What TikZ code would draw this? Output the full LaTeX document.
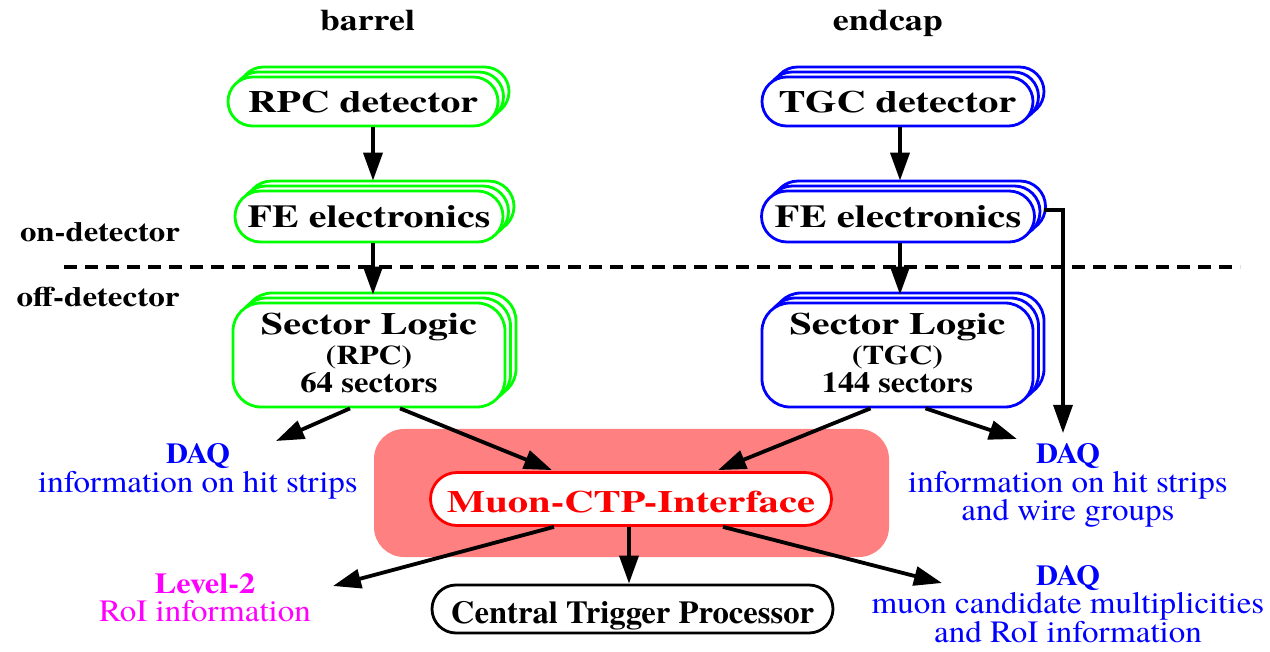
\documentclass[tikz,border=0pt]{standalone}
\usepackage{fontspec}
\setmainfont{texgyretermes}[Extension=.otf, UprightFont=*-regular, BoldFont=*-bold, ItalicFont=*-italic, BoldItalicFont=*-bolditalic]
\usepackage{graphicx}
\usetikzlibrary{arrows.meta,shadows,shapes.misc,calc}
\definecolor{cgreen}{RGB}{0,255,0}
\definecolor{cblue}{RGB}{0,0,255}
\definecolor{cred}{RGB}{255,0,0}
\definecolor{cpink}{RGB}{255,128,128}
\definecolor{cmag}{RGB}{255,0,255}
\newcommand{\hs}[2]{\scalebox{#1}[1]{#2}}
\newcommand{\fs}[1]{\fontsize{#1}{#1}\selectfont}
\begin{document}
\begin{tikzpicture}[x=1pt,y=-1pt,
  pill/.style={rounded rectangle, draw, line width=2.8pt, fill=white, inner sep=0pt},
  rbox/.style={rectangle, rounded corners=28pt, draw, line width=2.8pt, fill=white, inner sep=0pt},
  stack/.style={copy shadow={shadow xshift=11pt,shadow yshift=10pt,draw=#1,fill=white,line width=2.8pt},
                copy shadow={shadow xshift=5.5pt,shadow yshift=5pt,draw=#1,fill=white,line width=2.8pt},
                draw=#1},
  lab/.style={anchor=base, inner sep=0pt},
  arr/.style={line width=3.8pt, -{Triangle[length=28pt,width=19pt]}},
  arrthin/.style={line width=3.2pt, -{Triangle[length=28pt,width=19pt]}},
  boxfont/.style={font=\fs{31}\bfseries}
]
\useasboundingbox (0,0) rectangle (1270,652);
% background of the interface
\fill[cpink, rounded corners=30pt] (374,429) rectangle (889,557);

% headers
\node[lab, font=\fs{30}\bfseries] (barrel) at (367.5,31) {\hs{1.19}{barrel}};
\node[lab, font=\fs{30}\bfseries] (endcap) at (888,31) {\hs{1.2}{endcap}};
\node[lab, font=\fs{28}\bfseries] (ondet) at (100,242) {\hs{1.17}{on-detector}};
\node[lab, font=\fs{28}\bfseries] (offdet) at (98,307) {\hs{1.18}{off-detector}};

% separator
\coordinate (dl) at (64,267);
\coordinate (dr) at (1240,267);
\draw[line width=4pt, dash pattern=on 13pt off 8pt] (dl) -- (dr);

% barrel column
\node[pill, stack=cgreen, minimum width=270pt, minimum height=49pt, boxfont, text height=23pt, text depth=0pt] (rpc) at (363,101.5) {\hs{1.28}{RPC detector}};
\node[pill, stack=cgreen, minimum width=268pt, minimum height=51pt, font=\fs{32}\bfseries, text height=23pt, text depth=0pt] (fe1) at (369,216.5) {\hs{1.25}{FE electronics}};
\node[rbox, stack=cgreen, minimum width=272pt, minimum height=104pt] (sl1) at (369,355) {};
\node[lab, font=\fs{31}\bfseries] (sl1a) at ($(sl1.center)+(0,-20)$) {\hs{1.3}{Sector Logic}};
\node[lab, font=\fs{27}\bfseries] (sl1b) at ($(sl1.center)+(0,10)$) {\hs{1.18}{(RPC)}};
\node[lab, font=\fs{29}\bfseries] (sl1c) at ($(sl1.center)+(0,38)$) {\hs{1.13}{64 sectors}};

% endcap column
\node[pill, stack=cblue, minimum width=271pt, minimum height=49pt, boxfont, text height=23pt, text depth=0pt] (tgc) at (897.5,101.5) {\hs{1.3}{TGC detector}};
\node[pill, stack=cblue, minimum width=273pt, minimum height=51pt, font=\fs{32}\bfseries, text height=23pt, text depth=0pt] (fe2) at (898,216.5) {\hs{1.27}{FE electronics}};
\node[rbox, stack=cblue, minimum width=271pt, minimum height=104pt] (sl2) at (897.5,355) {};
\node[lab, font=\fs{31}\bfseries] (sl2a) at ($(sl2.center)+(0,-20)$) {\hs{1.3}{Sector Logic}};
\node[lab, font=\fs{27}\bfseries] (sl2b) at ($(sl2.center)+(0,10)$) {\hs{1.2}{(TGC)}};
\node[lab, font=\fs{29}\bfseries] (sl2c) at ($(sl2.center)+(0,38)$) {\hs{1.11}{144 sectors}};

% interface and CTP
\node[pill, draw=cred, minimum width=401pt, minimum height=53pt, font=\fs{31}\bfseries, text=cred, text height=27pt, text depth=0pt] (mci) at (631,499) {\hs{1.31}{Muon-CTP-Interface}};
\node[pill, draw=black, minimum width=401pt, minimum height=48pt, font=\fs{32}\bfseries, text height=28pt, text depth=0pt] (ctp) at (632.5,609) {\hs{1.02}{Central Trigger Processor}};

% DAQ / Level-2 labels
\node[lab, font=\fs{29}\bfseries, text=cblue] (daqL) at (198,463) {\hs{1.05}{DAQ}};
\node[lab, font=\fs{31}, text=cblue] (daqLa) at (198,492) {\hs{1.065}{information on hit strips}};
\node[lab, font=\fs{29}\bfseries, text=cmag] (lvl) at (205,593) {\hs{1.12}{Level-2}};
\node[lab, font=\fs{31}, text=cmag] (lvla) at (205,621) {\hs{1.065}{RoI information}};
\node[lab, font=\fs{29}\bfseries, text=cblue] (daqR) at (1068,463) {\hs{1.05}{DAQ}};
\node[lab, font=\fs{31}, text=cblue] (daqRa) at (1068,492) {\hs{1.065}{information on hit strips}};
\node[lab, font=\fs{31}, text=cblue] (daqRb) at (1068,520) {\hs{1.065}{and wire groups}};
\node[lab, font=\fs{29}\bfseries, text=cblue] (daqR2) at (1068,585) {\hs{1.05}{DAQ}};
\node[lab, font=\fs{31}, text=cblue] (daqR2a) at (1068,613) {\hs{1.065}{muon candidate multiplicities}};
\node[lab, font=\fs{31}, text=cblue] (daqR2b) at (1068,642) {\hs{1.065}{and RoI information}};

% arrow columns
\coordinate (c1) at (373,0);
\coordinate (c2) at (900,0);
\coordinate (c3) at (1063,0);
\coordinate (c4) at (629,0);

\draw[arr] (rpc.south -| c1) -- ($(fe1.north -| c1)+(0,-9)$);
\draw[arr] (fe1.south -| c1) -- ($(sl1.north -| c1)+(0,-7)$);
\draw[arr] (tgc.south -| c2) -- ($(fe2.north -| c2)+(0,-9)$);
\draw[arr] (fe2.south -| c2) -- ($(sl2.north -| c2)+(0,-7)$);
\draw[arrthin] ($(fe2.east)+(8,-6.5)$) -| ($(daqR.base -| c3)+(0,-30)$);

\draw[arr] ($(sl1.south)+(-19,0)$) -- ($(daqL.base)+(78,-22)$);
\draw[arr] ($(sl1.south)+(31,0)$) -- ($(mci.north)+(-79,-1)$);
\draw[arr] ($(sl2.south)+(-27,0)$) -- ($(mci.north)+(87,-1)$);
\draw[arr] ($(sl2.south)+(28,0)$) -- ($(daqR.base)+(-51,-24)$);

\draw[arr] ($(mci.south)+(-77,0)$) -- ($(lvl.base)+(128,-7)$);
\draw[arr] (mci.south -| c4) -- (ctp.north -| c4);
\draw[arr] ($(mci.south)+(92,0)$) -- ($(daqR2.base)+(-126,-2)$);
\end{tikzpicture}
\end{document}
